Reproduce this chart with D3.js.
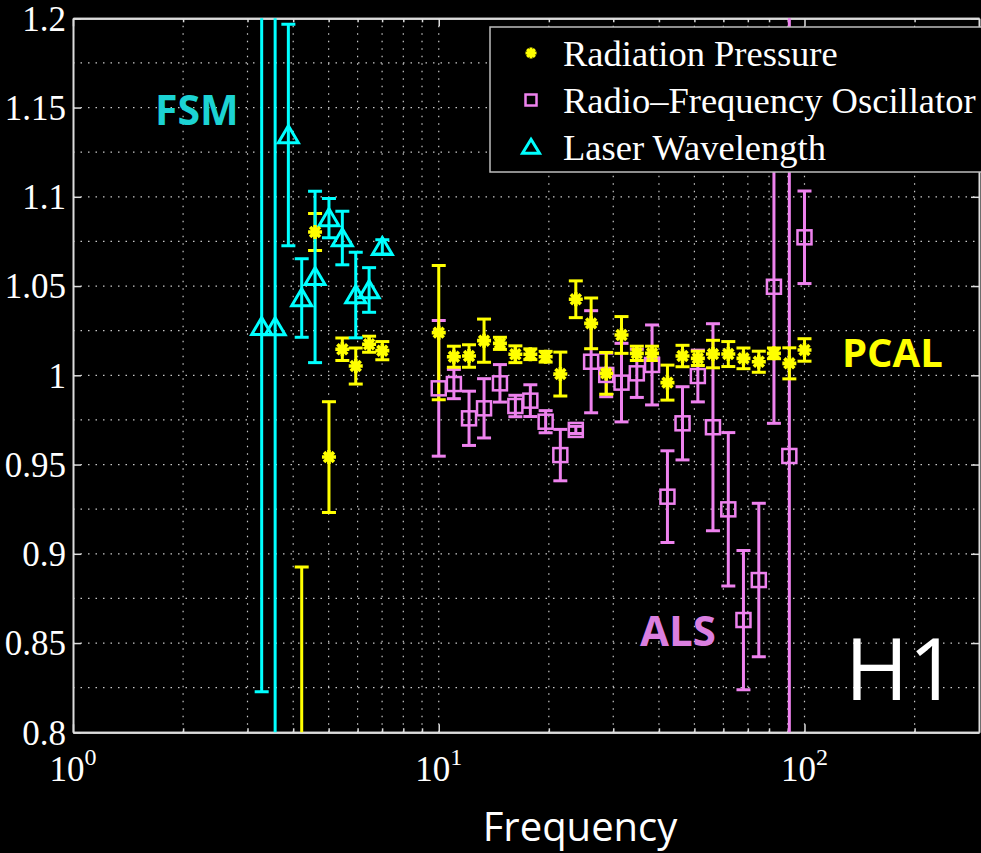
<!DOCTYPE html>
<html><head><meta charset="utf-8">
<script src="https://cdn.jsdelivr.net/npm/d3@7"></script>
<style>html,body{margin:0;padding:0;background:#000;}svg{display:block}</style>
</head><body>
<svg id="chart" width="981" height="853"></svg>
<script>
// Radiation Pressure (yellow asterisks)
const rpFreq = [4.22, 4.59, 5.01, 5.45, 5.93, 6.45, 7.01, 10.0, 11.0, 12.1, 13.3, 14.7, 16.2, 17.8, 19.6, 21.5, 23.7, 26.1, 28.7, 31.6, 34.8, 38.3, 42.2, 46.4, 51.1, 56.2, 61.9, 68.1, 75.0, 82.5, 90.9, 100];
const rpVal  = [0.72, 1.0803, 0.9542, 1.0146, 1.0052, 1.0174, 1.0138, 1.0239, 1.0104, 1.0108, 1.0194, 1.0179, 1.0118, 1.0118, 1.0104, 1.0007, 1.0426, 1.0291, 1.0011, 1.0226, 1.0123, 1.0123, 0.9959, 1.0108, 1.0095, 1.0119, 1.0119, 1.0095, 1.0076, 1.0123, 1.0067, 1.0142];
const rpErr  = [0.1726, 0.0104, 0.031, 0.0063, 0.0101, 0.0045, 0.0051, 0.0376, 0.0059, 0.0063, 0.0121, 0.0034, 0.0047, 0.003, 0.003, 0.0123, 0.0103, 0.0142, 0.0117, 0.0103, 0.004, 0.004, 0.0098, 0.006, 0.004, 0.0077, 0.007, 0.0058, 0.0059, 0.003, 0.0087, 0.0063];

// Radio-Frequency Oscillator (violet squares)
const rfFreq = [10.0, 11.0, 12.1, 13.3, 14.7, 16.2, 17.8, 19.6, 21.5, 23.7, 26.1, 28.7, 31.6, 34.8, 38.3, 42.2, 46.4, 51.1, 56.2, 61.9, 68.1, 75.0, 82.5, 90.9, 100];
const rfVal  = [0.9927, 0.9951, 0.9759, 0.9815, 0.9955, 0.9828, 0.9858, 0.974, 0.9553, 0.9694, 1.0076, 1.0002, 0.9959, 1.0011, 1.0058, 0.932, 0.9731, 0.9996, 0.9709, 0.9249, 0.8629, 0.8853, 1.0496, 0.9548, 1.0773];
const rfErr  = [0.038, 0.0082, 0.0152, 0.0166, 0.0105, 0.006, 0.0089, 0.0062, 0.0144, 0.002, 0.0286, 0.0122, 0.022, 0.0135, 0.0224, 0.0257, 0.0205, 0.0145, 0.058, 0.043, 0.039, 0.043, 0.0765, 0.26, 0.0259];

// Laser Wavelength (cyan triangles)
const lwFreq = [3.28, 3.57, 3.88, 4.22, 4.59, 5.01, 5.45, 5.93, 6.45, 7.01];
const lwVal  = [1.0271, 1.027, 1.1346, 1.0433, 1.0551, 1.0881, 1.0769, 1.045, 1.0478, 1.0719];
const lwErr  = [0.2044, 0.25, 0.062, 0.022, 0.048, 0.011, 0.015, 0.024, 0.0125, 0.004];

// Axis ticks
const yTicks = [0.8, 0.85, 0.9, 0.95, 1, 1.05, 1.1, 1.15, 1.2];
const yTickLabels = ["0.8", "0.85", "0.9", "0.95", "1", "1.05", "1.1", "1.15", "1.2"];
const yGrid = [0.825, 0.85, 0.875, 0.9, 0.925, 0.95, 0.975, 1, 1.025, 1.05, 1.075, 1.1, 1.125, 1.15, 1.175];
const xMajor = [1, 10, 100];
const xMajorExp = ["0", "1", "2"];
const xMinor = [2, 3, 4, 5, 6, 7, 8, 9, 20, 30, 40, 50, 60, 70, 80, 90, 200];

const seriesNames = ["Radiation Pressure", "Radio\u2013Frequency Oscillator", "Laser Wavelength"];
const COL_RP = "#ffff00", COL_RF = "#ee82ee", COL_LW = "#00ffff";

const svg = d3.select("#chart");
svg.append("rect").attr("width", 981).attr("height", 853).attr("fill", "#000");

const L = 73, R = 979, T = 18.3, B = 732.3;
const x = d3.scaleLog().domain([1, 300]).range([L, R]);
const y = d3.scaleLinear().domain([0.8, 1.2]).range([B, T]);

// dotted grid
const grid = svg.append("g").attr("stroke", "#c8c8c8").attr("stroke-width", 1.2)
  .attr("stroke-dasharray", "1.5,6");
grid.selectAll("line.v").data(xMajor.concat(xMinor).filter(d => d > 1)).join("line")
  .attr("x1", d => x(d)).attr("x2", d => x(d)).attr("y1", T).attr("y2", B);
grid.selectAll("line.h").data(yGrid).join("line")
  .attr("y1", d => y(d)).attr("y2", d => y(d)).attr("x1", L).attr("x2", R);

// axes
const axisCol = "#dcdcdc";
function styleAxis(g) {
  g.select(".domain").attr("stroke", axisCol).attr("stroke-width", 2);
  g.selectAll(".tick line").attr("stroke", axisCol).attr("stroke-width", 1.5);
}
const yAxis = svg.append("g").attr("transform", `translate(${L},0)`)
  .call(d3.axisLeft(y).tickValues(yTicks).tickSize(-8).tickSizeOuter(0).tickPadding(7)
    .tickFormat((d, i) => yTickLabels[i]));
styleAxis(yAxis);
yAxis.selectAll(".tick text").attr("fill", "#fff").style("font-family", "'Liberation Serif', serif")
  .style("font-size", "35px").attr("dy", "0.34em");
const yAxisR = svg.append("g").attr("transform", `translate(${R},0)`)
  .call(d3.axisRight(y).tickValues(yTicks).tickSize(-8).tickSizeOuter(0).tickFormat(""));
styleAxis(yAxisR);

function xAxisPair(gen, ypos) {
  const gMin = svg.append("g").attr("transform", `translate(0,${ypos})`)
    .call(gen(x).tickValues(xMinor).tickSize(-4).tickSizeOuter(0).tickFormat(""));
  styleAxis(gMin);
  const gMaj = svg.append("g").attr("transform", `translate(0,${ypos})`)
    .call(gen(x).tickValues(xMajor).tickSize(-8).tickSizeOuter(0).tickFormat(""));
  styleAxis(gMaj);
  return gMaj;
}
xAxisPair(d3.axisTop, T);
xAxisPair(d3.axisBottom, B);

// decade labels with superscript exponents
const xl = svg.append("g").attr("fill", "#fff").style("font-family", "'Liberation Serif', serif");
xMajor.forEach((d, i) => {
  const t = xl.append("text").attr("x", x(d)).attr("y", 781).attr("text-anchor", "middle")
    .style("font-size", "35px");
  t.append("tspan").text("10");
  t.append("tspan").attr("dy", -16).style("font-size", "24px").text(xMajorExp[i]);
});

// data layer
svg.append("clipPath").attr("id", "plotClip").append("rect")
  .attr("x", L).attr("y", T).attr("width", R - L).attr("height", B - T);
const plot = svg.append("g").attr("clip-path", "url(#plotClip)");

function errorBars(freq, val, err, col) {
  const g = plot.append("g").attr("stroke", col).attr("stroke-width", 3).attr("fill", "none");
  const pts = freq.map((f, i) => ({f, v: val[i], e: err[i]}));
  g.selectAll("line.bar").data(pts).join("line")
    .attr("x1", d => x(d.f)).attr("x2", d => x(d.f))
    .attr("y1", d => y(d.v - d.e)).attr("y2", d => y(d.v + d.e));
  g.selectAll("line.capHi").data(pts).join("line")
    .attr("x1", d => x(d.f) - 7).attr("x2", d => x(d.f) + 7)
    .attr("y1", d => y(d.v + d.e)).attr("y2", d => y(d.v + d.e));
  g.selectAll("line.capLo").data(pts).join("line")
    .attr("x1", d => x(d.f) - 7).attr("x2", d => x(d.f) + 7)
    .attr("y1", d => y(d.v - d.e)).attr("y2", d => y(d.v - d.e));
}

function asteriskPath(r) {
  const d = r * 0.7071;
  return `M${-r},0H${r}M0,${-r}V${r}M${-d},${-d}L${d},${d}M${-d},${d}L${d},${-d}`;
}
function trianglePath(w, h) {
  return `M0,${-h * 0.55}L${w / 2},${h * 0.45}L${-w / 2},${h * 0.45}Z`;
}

errorBars(rfFreq, rfVal, rfErr, COL_RF);
errorBars(rpFreq, rpVal, rpErr, COL_RP);
errorBars(lwFreq, lwVal, lwErr, COL_LW);

plot.append("g").selectAll("rect").data(rfFreq.map((f, i) => ({f, v: rfVal[i]}))).join("rect")
  .attr("x", d => x(d.f) - 7).attr("y", d => y(d.v) - 7).attr("width", 14).attr("height", 14)
  .attr("fill", "none").attr("stroke", COL_RF).attr("stroke-width", 2.5);
plot.append("g").selectAll("path").data(lwFreq.map((f, i) => ({f, v: lwVal[i]}))).join("path")
  .attr("transform", d => `translate(${x(d.f)},${y(d.v)})`).attr("d", trianglePath(20, 17))
  .attr("fill", "none").attr("stroke", COL_LW).attr("stroke-width", 3).attr("stroke-linejoin", "miter");
plot.append("g").selectAll("path").data(rpFreq.map((f, i) => ({f, v: rpVal[i]}))).join("path")
  .attr("transform", d => `translate(${x(d.f)},${y(d.v)})`).attr("d", asteriskPath(7))
  .attr("fill", "none").attr("stroke", COL_RP).attr("stroke-width", 3.6);

// legend
const lg = svg.append("g");
lg.append("rect").attr("x", 490).attr("y", 27).attr("width", 500).attr("height", 145)
  .attr("fill", "#000").attr("stroke", "#bdbdbd").attr("stroke-width", 1.5);
const rows = [53, 100, 147];
lg.append("path").attr("transform", `translate(531,${rows[0]})`).attr("d", asteriskPath(5.5))
  .attr("stroke", COL_RP).attr("stroke-width", 3).attr("fill", "none");
lg.append("rect").attr("x", 531 - 5.5).attr("y", rows[1] - 5.5).attr("width", 11).attr("height", 11)
  .attr("fill", "none").attr("stroke", COL_RF).attr("stroke-width", 2.5);
lg.append("path").attr("transform", `translate(531,${rows[2]})`).attr("d", trianglePath(17, 14))
  .attr("fill", "none").attr("stroke", COL_LW).attr("stroke-width", 3);
lg.selectAll("text").data(seriesNames).join("text")
  .attr("x", 563).attr("y", (d, i) => rows[i]).attr("dy", "0.35em")
  .attr("fill", "#fff").style("font-family", "'Liberation Serif', serif").style("font-size", "36.5px")
  .text(d => d);

// annotations
const ann = svg.append("g").style("font-family", "'Open Sans', sans-serif");
ann.append("text").attr("x", 155).attr("y", 125).attr("fill", "#1cd3d3")
  .style("font-size", "41px").style("font-weight", "bold").text("FSM");
ann.append("text").attr("x", 842).attr("y", 367).attr("fill", "#ffff00")
  .style("font-size", "40px").style("font-weight", "bold").text("PCAL");
ann.append("text").attr("x", 640).attr("y", 646).attr("fill", "#da7fe0")
  .style("font-size", "42px").style("font-weight", "bold").text("ALS");
ann.append("text").attr("x", 845).attr("y", 700).attr("fill", "#fff")
  .style("font-size", "86px").text("H1");
ann.append("text").attr("x", 580).attr("y", 841).attr("text-anchor", "middle").attr("fill", "#fff")
  .style("font-size", "40px").text("Frequency");
</script>
</body></html>
